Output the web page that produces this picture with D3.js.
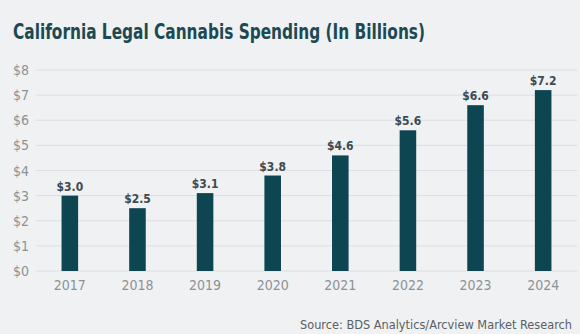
<!DOCTYPE html>
<html>
<head>
<meta charset="utf-8">
<script src="https://cdn.jsdelivr.net/npm/d3@7"></script>
<style>
  body { margin: 0; background: #f0f1f3; }
  svg { display: block; }
</style>
</head>
<body>
<script>
// chart data
const years = ['2017', '2018', '2019', '2020', '2021', '2022', '2023', '2024'];
const spending = [3.0, 2.5, 3.1, 3.8, 4.6, 5.6, 6.6, 7.2];
const yTicks = [0, 1, 2, 3, 4, 5, 6, 7, 8];

const W = 580, H = 334;
const narrow = '"DejaVu Sans Condensed", "Liberation Sans Narrow", Roboto, sans-serif';

const svg = d3.select('body').append('svg')
  .attr('width', W)
  .attr('height', H);

svg.append('rect').attr('width', W).attr('height', H).attr('fill', '#f0f1f3');

// title
svg.append('text')
  .attr('x', 13)
  .attr('y', 39)
  .attr('font-family', narrow)
  .attr('font-weight', 'bold')
  .attr('font-size', '22px')
  .attr('fill', '#1c4a52')
  .attr('textLength', 412)
  .attr('lengthAdjust', 'spacingAndGlyphs')
  .text('California Legal Cannabis Spending (In Billions)');

const x = d3.scaleBand()
  .domain(years)
  .range([36, 577])
  .paddingInner(0.755)
  .paddingOuter(0.378);

const y = d3.scaleLinear()
  .domain([0, 8])
  .range([271, 70]);

// gridlines
svg.append('g')
  .selectAll('line')
  .data(yTicks)
  .enter().append('line')
  .attr('x1', 36)
  .attr('x2', 577)
  .attr('y1', d => y(d))
  .attr('y2', d => y(d))
  .attr('stroke', '#dcdee1')
  .attr('stroke-width', 1);

// y labels
svg.append('g')
  .selectAll('text')
  .data(yTicks)
  .enter().append('text')
  .attr('x', 29)
  .attr('y', d => y(d) + 5)
  .attr('text-anchor', 'end')
  .attr('font-family', narrow)
  .attr('font-size', '14px')
  .attr('fill', '#8c9196')
  .text(d => '$' + d);

// bars
svg.selectAll('.bar')
  .data(spending)
  .enter().append('rect')
  .attr('class', 'bar')
  .attr('x', (d, i) => x(years[i]))
  .attr('y', d => y(d))
  .attr('width', x.bandwidth())
  .attr('height', d => y(0) - y(d))
  .attr('fill', '#0d4551');

// value labels
svg.selectAll('.bar-label')
  .data(spending)
  .enter().append('text')
  .attr('class', 'bar-label')
  .attr('x', (d, i) => x(years[i]) + x.bandwidth() / 2)
  .attr('y', d => y(d) - 5)
  .attr('text-anchor', 'middle')
  .attr('font-family', narrow)
  .attr('font-weight', 'bold')
  .attr('font-size', '12px')
  .attr('fill', '#3d4a50')
  .text(d => '$' + d.toFixed(1));

// x labels
svg.selectAll('.year')
  .data(years)
  .enter().append('text')
  .attr('class', 'year')
  .attr('x', d => x(d) + x.bandwidth() / 2)
  .attr('y', 290)
  .attr('text-anchor', 'middle')
  .attr('font-family', narrow)
  .attr('font-size', '14px')
  .attr('fill', '#8c9196')
  .text(d => d);

// source
svg.append('text')
  .attr('x', 572)
  .attr('y', 329)
  .attr('text-anchor', 'end')
  .attr('font-family', narrow)
  .attr('font-size', '13px')
  .attr('fill', '#5a5f64')
  .attr('textLength', 272)
  .attr('lengthAdjust', 'spacingAndGlyphs')
  .text('Source: BDS Analytics/Arcview Market Research');
</script>
</body>
</html>
